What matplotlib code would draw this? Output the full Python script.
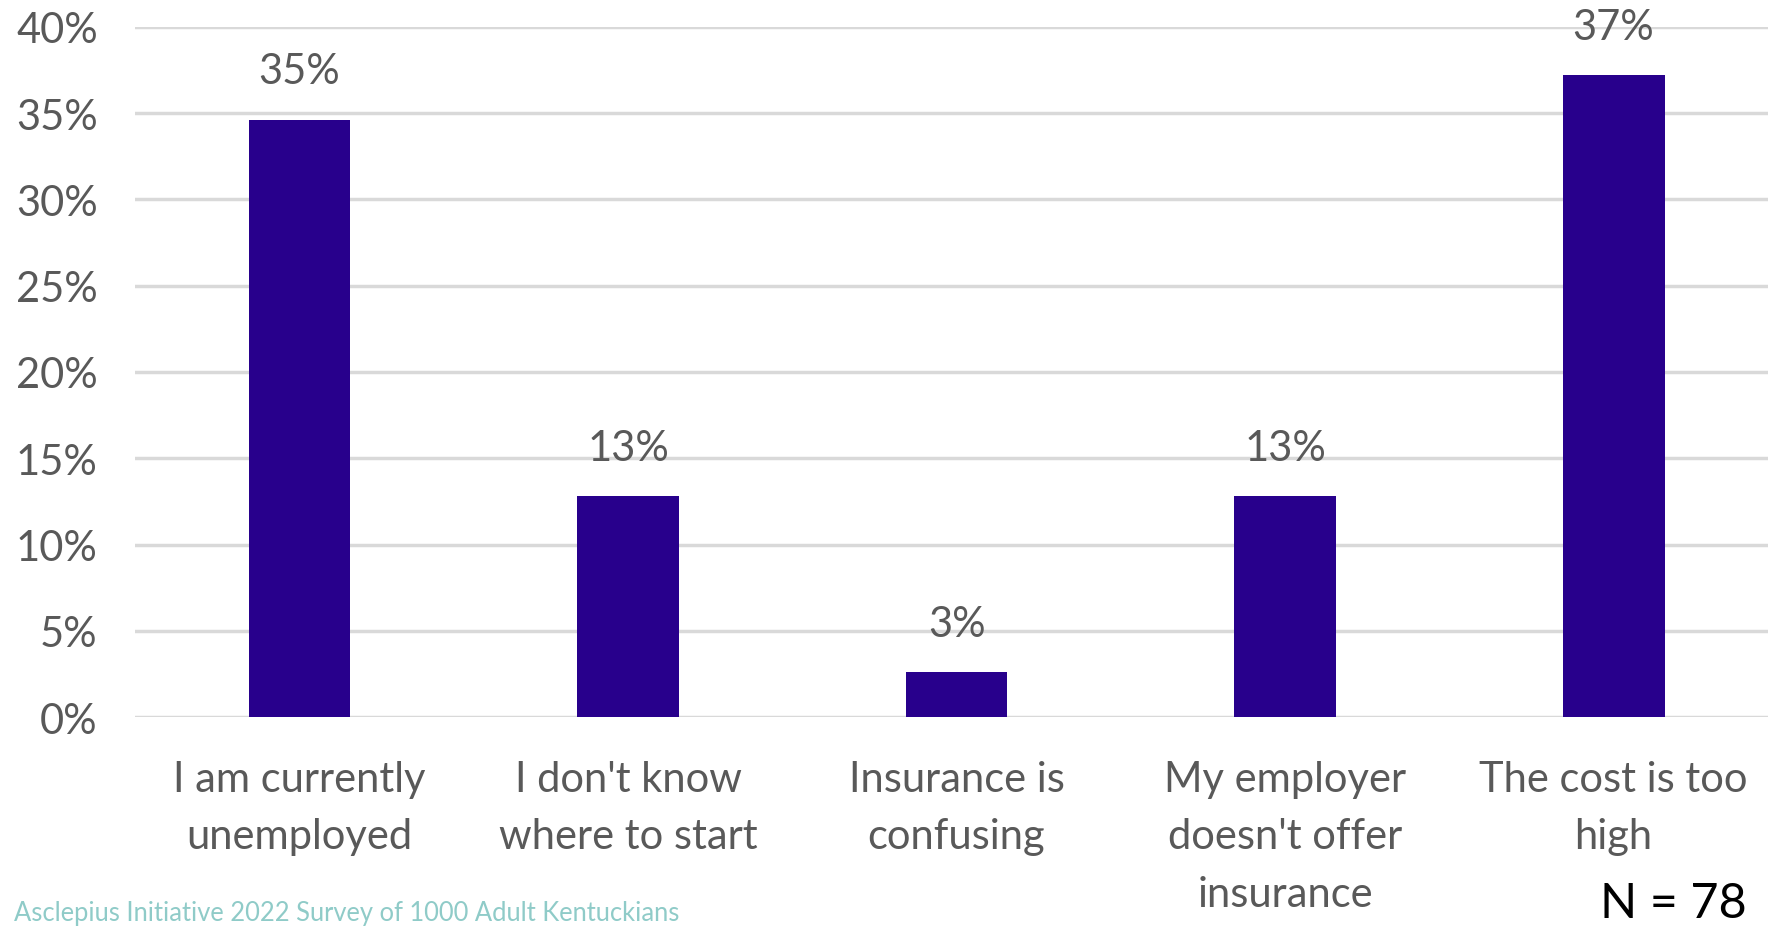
import numpy as np
import matplotlib
matplotlib.use("Agg")
import matplotlib.pyplot as plt

plt.rcParams['font.family'] = ['Lato', 'DejaVu Sans']

categories = ["I am currently\nunemployed", "I don't know\nwhere to start",
              "Insurance is\nconfusing", "My employer\ndoesn't offer\ninsurance",
              "The cost is too\nhigh"]
shares = [34.6, 12.8, 2.6, 12.8, 37.2]
labels = ["35%", "13%", "3%", "13%", "37%"]
yticks = [0, 5, 10, 15, 20, 25, 30, 35, 40]

bar_color = "#28008c"
text_color = "#595959"

fig = plt.figure(figsize=(17.68, 9.29), dpi=100)
ax = fig.add_axes([0.0765, 0.227, 0.9235, 0.743])

x = np.arange(len(categories))
ax.bar(x, shares, width=0.31, color=bar_color, zorder=3)
for xi, v, lab in zip(x, shares, labels):
    ax.annotate(lab, (xi, v), xytext=(0, 35), textcoords="offset points",
                ha="center", va="center", fontsize=30, color=text_color, zorder=4)

ax.set_ylim(0, 40)
ax.set_xlim(-0.5, 4.47)
ax.set_yticks(yticks)
ax.set_yticklabels([f"{t}%" for t in yticks])
ax.set_xticks(x)
ax.set_xticklabels(categories, linespacing=1.62)
ax.grid(axis="y", color="#d9d9d9", linewidth=2.5, zorder=0)
ax.tick_params(axis="both", length=0, labelsize=30, labelcolor=text_color)
ax.tick_params(axis="x", pad=31)
ax.tick_params(axis="y", pad=27)
for s in ax.spines.values():
    s.set_visible(False)
ax.set_axisbelow(True)

fig.text(0.008, 0.009, "Asclepius Initiative 2022 Survey of 1000 Adult Kentuckians",
         fontsize=18.4, color="#8fcbc8", ha="left", va="baseline")
fig.text(0.988, 0.012, "N = 78", fontsize=35, color="black", ha="right", va="baseline")

fig.savefig("out.png", dpi=100)
